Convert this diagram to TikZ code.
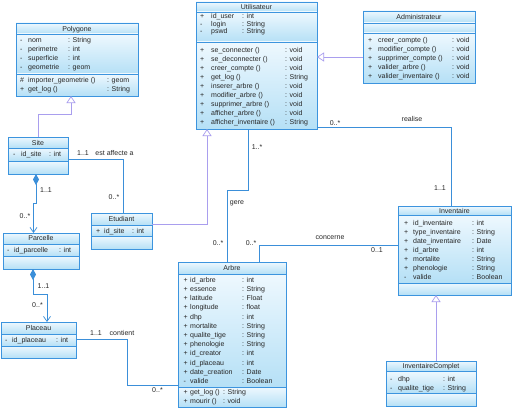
\documentclass[tikz,border=0pt]{standalone}
\usepackage{fontspec}
\setmainfont{Liberation Sans}
\usetikzlibrary{arrows.meta,calc}
\definecolor{bord}{HTML}{3C94DE}
\definecolor{assocc}{HTML}{3B8FD9}
\definecolor{genc}{HTML}{A99EEE}
\definecolor{fillTop}{HTML}{EEF8FE}
\definecolor{fillBot}{HTML}{B5E0F6}
\definecolor{txt}{HTML}{262626}
\tikzset{
  classbox/.style={draw=bord, line width=0.8pt, anchor=north west, inner sep=0pt, outer sep=0pt},
  compfill/.style={top color=fillTop, bottom color=fillBot},
  sepline/.style={draw=bord, line width=0.7pt},
  rowtxt/.style={anchor=base west, inner sep=0pt, font=\fontsize{7}{8}\selectfont, text=txt, yshift=-2.2pt},
  titletxt/.style={anchor=base, inner sep=0pt, font=\fontsize{7}{8}\selectfont, text=txt, yshift=-2.4pt},
  lbl/.style={anchor=base, inner sep=0pt, font=\fontsize{7}{8}\selectfont, text=txt, yshift=-2.2pt},
  assocline/.style={draw=assocc, line width=0.7pt},
  genline/.style={draw=genc, line width=0.7pt, -{Triangle[width=9pt,length=7pt,fill=white]}},
  compline/.style={draw=assocc, line width=0.7pt, {Diamond[width=6pt,length=11pt,fill=assocc]}-{Straight Barb[width=7pt,length=5pt]}},
}
% name, L, T, R, B, header y, divider y
\newcommand\umlclass[7]{%
  \shade[compfill] (#2,#3) rectangle (#4,#6);
  \shade[compfill] (#2,#6) rectangle (#4,#7);
  \shade[compfill] (#2,#7) rectangle (#4,#5);
  \node[classbox, minimum width={(#4-#2)*1pt}, minimum height={(#5-#3)*1pt}] (#1) at (#2,#3) {};
  \draw[sepline] (#2,#6) -- (#4,#6) (#2,#7) -- (#4,#7);
}
% prefix, xm, marker width, name width, y0, dy, list
\newcommand\umlrows[7]{%
  \foreach \m/\n/\t [count=\i from 0] in {#7} {%
    \node[rowtxt] (#1\i) at (#2,{#5+#6*\i}) {\makebox[#3pt][l]{\m}\makebox[#4pt][l]{\n}: \t};
  }%
}
\begin{document}
\begin{tikzpicture}[x=1pt,y=-1pt]
\useasboundingbox (0,0) rectangle (513,409);
\fill[white] (0,0) rectangle (513,409);

% ---------- classes ----------
\umlclass{poly}{16}{23}{138}{96}{34}{74}
\node[titletxt] (polyt) at (77,29) {Polygone};
\umlrows{polya}{20}{8}{40}{40}{9}{-/nom/String, -/perimetre/int, -/superficie/int, -/geometrie/geom}
\umlrows{polym}{20}{8}{79}{80.5}{8.5}{\#/importer\_geometrie ()/geom, +/get\_log ()/String}

\umlclass{util}{196}{2}{317}{129}{12}{42}
\node[titletxt] (utilt) at (256.5,7) {Utilisateur};
\umlrows{utila}{200}{11}{31}{16.5}{7.5}{+/id\_user/int, -/login/String, -/pswd/String}
\umlrows{utilm}{200}{11}{74}{50}{9}{+/se\_connecter ()/void, +/se\_deconnecter ()/void, +/creer\_compte ()/void, +/get\_log ()/String, +/inserer\_arbre ()/void, +/modifier\_arbre ()/void, +/supprimer\_arbre ()/void, +/afficher\_arbre ()/void, +/afficher\_inventaire ()/String}

\umlclass{admin}{363}{11}{475}{83}{23}{33}
\node[titletxt] (admint) at (419,17.5) {Administrateur};
\umlrows{adminm}{368}{10}{74}{40}{9}{+/creer\_compte ()/void, +/modifier\_compte ()/void, +/supprimer\_compte ()/void, +/valider\_arbre ()/void, +/valider\_inventaire ()/void}

\umlclass{site}{8}{137}{68}{174}{148}{161}
\node[titletxt] (sitet) at (38,143) {Site};
\umlrows{sitea}{13}{8}{28}{154.5}{9}{-/id\_site/int}

\umlclass{etud}{91}{213}{152}{249}{225}{236}
\node[titletxt] (etudt) at (121.5,219) {Etudiant};
\umlrows{etuda}{96}{8}{28}{231}{9}{+/id\_site/int}

\umlclass{parc}{3}{233}{79}{269}{244}{256}
\node[titletxt] (parct) at (41,238.5) {Parcelle};
\umlrows{parca}{7}{7}{45}{250.5}{9}{-/id\_parcelle/int}

\umlclass{plac}{1}{322}{76}{358}{334}{346}
\node[titletxt] (plact) at (38.5,328) {Placeau};
\umlrows{placa}{5}{7}{44}{340}{9}{-/id\_placeau/int}

\umlclass{arbre}{178}{262}{286}{407}{274}{387}
\node[titletxt] (arbret) at (232,268.5) {Arbre};
\umlrows{arbrea}{183.5}{6.5}{52}{280}{9.21}{+/id\_arbre/int, +/essence/String, +/latitude/Float, +/longitude/float, +/dhp/int, +/mortalite/String, +/qualite\_tige/String, +/phenologie/String, +/id\_creator/int, +/id\_placeau/int, +/date\_creation/Date, -/valide/Boolean}
\umlrows{arbrem}{183.5}{6.5}{33}{392.5}{8.5}{+/get\_log ()/String, +/mourir ()/void}

\umlclass{inv}{398}{206}{511}{295}{215}{283}
\node[titletxt] (invt) at (454.5,211) {Inventaire};
\umlrows{inva}{404}{9}{59}{223.3}{9.07}{+/id\_inventaire/int, +/type\_inventaire/String, +/date\_inventaire/Date, +/id\_arbre/int, +/mortalite/String, +/phenologie/String, -/valide/Boolean}

\umlclass{invc}{386}{361}{476}{406}{371}{393}
\node[titletxt] (invct) at (431,366) {InventaireComplet};
\umlrows{invca}{390}{8}{45}{379.3}{9}{-/dhp/int, -/qualite\_tige/String}

% ---------- generalizations ----------
\draw[genline] (site.north) -- ++(0,-23) -| ($(poly.south west)+(55,0)$);
\draw[genline] ($(etud.north east)+(0,11)$) -| ($(util.south west)+(11,0)$);
\draw[genline] ($(admin.north west)+(0,46)$) -- ($(util.north east)+(0,55)$);
\draw[genline] ($(invc.north west)+(50,0)$) -- ($(inv.south west)+(38,0)$);

% ---------- associations ----------
\draw[assocline] ($(site.north east)+(0,22)$) -| ($(etud.north west)+(32,0)$);
\draw[compline] ($(site.south west)+(28,0)$) -- ++(0,29) -| ($(parc.north west)+(30.5,0)$);
\draw[compline] ($(parc.south west)+(30,0)$) -- ++(0,25) -| ($(plac.north west)+(46,0)$);
\draw[assocline] ($(plac.north east)+(0,17)$) -| ($(arbre.north west)+(-51,123)$) -- ($(arbre.north west)+(0,123)$);
\draw[assocline] ($(util.south west)+(52,0)$) -- ++(0,61) -| ($(arbre.north west)+(49,0)$);
\draw[assocline] ($(arbre.north west)+(81,0)$) |- ($(inv.north west)+(0,39)$);
\draw[assocline] ($(util.north east)+(0,125)$) -| ($(inv.north west)+(53,0)$);

% ---------- labels ----------
\node[lbl] (l1) at (83,153) {1..1};
\node[lbl] (l2) at (114.5,153) {est affecte a};
\node[lbl] (l3) at (114,197) {0..*};
\node[lbl] (l4) at (46,190) {1..1};
\node[lbl] (l5) at (25,216) {0..*};
\node[lbl] (l6) at (43.5,286) {1..1};
\node[lbl] (l7) at (37.5,305) {0..*};
\node[lbl] (l8) at (96,333) {1..1};
\node[lbl] (l9) at (122,333) {contient};
\node[lbl] (l10) at (157.5,390) {0..*};
\node[lbl] (l11) at (257,147) {1..*};
\node[lbl] (l12) at (237,202) {gere};
\node[lbl] (l13) at (218,243) {0..*};
\node[lbl] (l14) at (251,243) {0..*};
\node[lbl] (l15) at (330,237) {concerne};
\node[lbl] (l16) at (377,250) {0..1};
\node[lbl] (l17) at (335,123) {0..*};
\node[lbl] (l18) at (412,119) {realise};
\node[lbl] (l19) at (440,188) {1..1};
\end{tikzpicture}
\end{document}
